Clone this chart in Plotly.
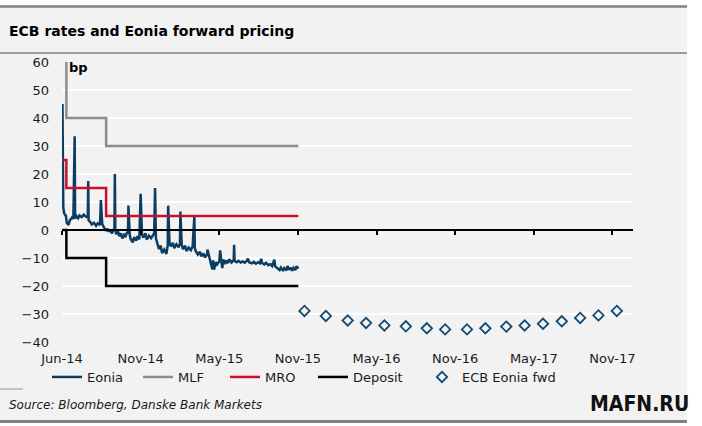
import plotly.graph_objects as go

W, H = 702, 426
ML, MR, MT, MB = 62, 69, 62, 84
PW, PH = W - ML - MR, H - MT - MB

def px(x):
    return (x - ML) / PW

def py(y):
    return (H - MB - y) / PH

# ---------------- data ----------------
tick_dates = ["2014-06-01", "2014-11-28", "2015-05-27", "2015-11-23",
              "2016-05-21", "2016-11-17", "2017-05-16", "2017-11-12"]
tick_labels = ["Jun-14", "Nov-14", "May-15", "Nov-15",
               "May-16", "Nov-16", "May-17", "Nov-17"]

eonia_dates = [
    "2014-06-02", "2014-06-03", "2014-06-04", "2014-06-06", "2014-06-10", "2014-06-12",
    "2014-06-16", "2014-06-19", "2014-06-24", "2014-06-27", "2014-06-30", "2014-07-01",
    "2014-07-04", "2014-07-08", "2014-07-11", "2014-07-16", "2014-07-21", "2014-07-25",
    "2014-07-30", "2014-07-31", "2014-08-01", "2014-08-05", "2014-08-08", "2014-08-13",
    "2014-08-18", "2014-08-22", "2014-08-27", "2014-08-29", "2014-09-01", "2014-09-04",
    "2014-09-10", "2014-09-12", "2014-09-16", "2014-09-19", "2014-09-23", "2014-09-26",
    "2014-09-29", "2014-09-30", "2014-10-01", "2014-10-03", "2014-10-07", "2014-10-10",
    "2014-10-14", "2014-10-17", "2014-10-21", "2014-10-24", "2014-10-28", "2014-10-30",
    "2014-10-31", "2014-11-03", "2014-11-05", "2014-11-10", "2014-11-13", "2014-11-18",
    "2014-11-21", "2014-11-25", "2014-11-28", "2014-12-01", "2014-12-04", "2014-12-09",
    "2014-12-12", "2014-12-17", "2014-12-22", "2014-12-29", "2014-12-31", "2015-01-02",
    "2015-01-06", "2015-01-09", "2015-01-13", "2015-01-16", "2015-01-21", "2015-01-26",
    "2015-01-29", "2015-01-30", "2015-02-02", "2015-02-05", "2015-02-10", "2015-02-13",
    "2015-02-18", "2015-02-23", "2015-02-26", "2015-02-27", "2015-03-02", "2015-03-05",
    "2015-03-10", "2015-03-13", "2015-03-18", "2015-03-23", "2015-03-27", "2015-03-31",
    "2015-04-01", "2015-04-03", "2015-04-08", "2015-04-13", "2015-04-16", "2015-04-21",
    "2015-04-24", "2015-04-29", "2015-04-30", "2015-05-04", "2015-05-07", "2015-05-11",
    "2015-05-13", "2015-05-15", "2015-05-19", "2015-05-22", "2015-05-27", "2015-05-29",
    "2015-06-01", "2015-06-03", "2015-06-05", "2015-06-09", "2015-06-12", "2015-06-16",
    "2015-06-19", "2015-06-24", "2015-06-29", "2015-06-30", "2015-07-01", "2015-07-06",
    "2015-07-10", "2015-07-15", "2015-07-20", "2015-07-24", "2015-07-29", "2015-07-31",
    "2015-08-04", "2015-08-10", "2015-08-14", "2015-08-19", "2015-08-24", "2015-08-28",
    "2015-08-31", "2015-09-02", "2015-09-07", "2015-09-11", "2015-09-16", "2015-09-21",
    "2015-09-25", "2015-09-30", "2015-10-02", "2015-10-07", "2015-10-12", "2015-10-15",
    "2015-10-20", "2015-10-23", "2015-10-28", "2015-10-30", "2015-11-03", "2015-11-06",
    "2015-11-10", "2015-11-13", "2015-11-17", "2015-11-20", "2015-11-24",
]
eonia_values = [
    45, 18, 8, 6, 5, 2.5,
    1.8, 3.5, 4.5, 4, 33.5, 4,
    5, 4.2, 5.2, 4.6, 5.5, 4.8,
    4.5, 17.5, 3.5, 2.8, 2, 2.6,
    1.5, 2.4, 1.8, 10.7, 2.2, 1.2,
    -0.3, 0.5, -0.6, 0.2, -1.2, -0.2,
    0.6, 20, 0.4, -1.5, -0.4, -2.2,
    -1.2, -3, -1.8, -2.5, -0.8, -1.3,
    8.7, -1.6, -3.2, -4.4, -2.6, -3.8,
    -2.2, -3.4, 12.9, -1.5, -2.7, -1.2,
    -3.4, -2, -2.9, -1.2, 15, -3,
    -5.2, -6.8, -5.6, -8.2, -7, -8.5,
    -5.5, 8.7, -4.5, -5.8, -4.6, -6.5,
    -5.1, -6.2, -5, 6.6, -5.2, -6.8,
    -5.6, -7.5, -6.3, -7.2, -5.8, 5,
    -6.5, -7.5, -8.8, -7.8, -9.4, -8.4,
    -9.8, -8.8, -7, -9.5, -10.5, -14,
    -10.8, -14.2, -11.5, -12.3, -11.2, -7.3,
    -11.5, -13.6, -10.5, -12.2, -10.9, -11.8,
    -10.4, -11.6, -10.8, -5.3, -11, -11.5,
    -11, -11.6, -11.2, -11.7, -11.1, -10.2,
    -11.6, -11.9, -11.4, -12, -11.5, -11.9,
    -10.3, -11.8, -12.3, -11.7, -12.6, -12.2,
    -12.9, -10.6, -13, -13.6, -14.3, -13.4,
    -14.6, -13.6, -14.4, -12.9, -14.2, -13.4,
    -14.5, -13.5, -14.3, -12.9, -13.8,
]

policy_dates = ["2014-06-02", "2014-06-11", "2014-09-10", "2015-11-24"]
mlf_values = [75, 40, 30, 30]
mro_values = [25, 15, 5, 5]
deposit_values = [0, -10, -20, -20]

fwd_dates = ["2015-12-08", "2016-01-26", "2016-03-16", "2016-04-27", "2016-06-08",
             "2016-07-27", "2016-09-13", "2016-10-25", "2016-12-14", "2017-01-25",
             "2017-03-14", "2017-04-25", "2017-06-06", "2017-07-19", "2017-08-30",
             "2017-10-11", "2017-11-22"]
fwd_values = [-28.9, -30.7, -32.3, -33.2, -34.1, -34.4, -35.1, -35.5, -35.5,
              -35.1, -34.5, -34.1, -33.5, -32.6, -31.4, -30.5, -28.9]

x_range = ["2014-06-01", "2017-12-29"]
y_range = [-40, 60]
y_ticks = [-40, -30, -20, -10, 0, 10, 20, 30, 40, 50, 60]

# ---------------- figure ----------------
C_EONIA = "#0b3d63"
C_MLF = "#8c8c8c"
C_MRO = "#c8102e"
C_DEP = "#000000"
C_FWD = "#134a74"
FONT = "DejaVu Sans, Verdana, sans-serif"

fig = go.Figure()
fig.add_trace(go.Scatter(x=eonia_dates, y=eonia_values, name="Eonia", mode="lines",
                         legend="legend",
                         line=dict(color=C_EONIA, width=2.5)))
fig.add_trace(go.Scatter(x=policy_dates, y=mlf_values, name="MLF", mode="lines",
                         legend="legend2",
                         line=dict(color=C_MLF, width=2.5, shape="hv")))
fig.add_trace(go.Scatter(x=policy_dates, y=mro_values, name="MRO", mode="lines",
                         legend="legend3",
                         line=dict(color=C_MRO, width=2.5, shape="hv")))
fig.add_trace(go.Scatter(x=policy_dates, y=deposit_values, name="Deposit", mode="lines",
                         legend="legend4",
                         line=dict(color=C_DEP, width=2.5, shape="hv")))
fig.add_trace(go.Scatter(x=fwd_dates, y=fwd_values, name="ECB Eonia fwd", mode="markers",
                         xaxis="x2", legend="legend5",
                         marker=dict(symbol="diamond-open", size=8, color=C_FWD,
                                     line=dict(color=C_FWD, width=1.8))))

axis_font = dict(family=FONT, size=13, color="#1a1a1a")
leg_font = dict(family=FONT, size=13, color="#1a1a1a")

def leg(xpix):
    return dict(orientation="h", x=px(xpix), xanchor="left", y=py(377), yanchor="middle",
                bgcolor="rgba(0,0,0,0)", font=leg_font, borderwidth=0)

fig.update_layout(
    width=W, height=H,
    margin=dict(l=ML, r=MR, t=MT, b=MB, pad=0),
    paper_bgcolor="#ffffff",
    plot_bgcolor="#f2f2f2",
    font=dict(family=FONT, size=13, color="#1a1a1a"),
    showlegend=True,
    legend=leg(47), legend2=leg(138), legend3=leg(225), legend4=leg(313), legend5=leg(422),
    xaxis=dict(type="date", range=x_range, tickvals=tick_dates, ticktext=tick_labels,
               showgrid=False, zeroline=False, showline=False, ticks="",
               tickfont=axis_font, ticklabelstandoff=7, fixedrange=True),
    xaxis2=dict(type="date", range=x_range, overlaying="x", anchor="free",
                position=(0 - y_range[0]) / (y_range[1] - y_range[0]),
                side="bottom", tickvals=tick_dates, showticklabels=False,
                showline=True, linecolor="#000000", linewidth=2,
                ticks="outside", ticklen=4, tickwidth=1.5, tickcolor="#000000",
                showgrid=False, zeroline=False),
    yaxis=dict(range=y_range, tickvals=y_ticks, showgrid=True, gridcolor="#ffffff",
               gridwidth=2, zeroline=False, showline=False, ticks="",
               tickfont=axis_font, ticklabelstandoff=12, fixedrange=True),
)

shapes = [
    dict(type="rect", xref="paper", yref="paper", x0=px(0), x1=px(687), y0=py(5), y1=py(423),
         fillcolor="#f2f2f2", line=dict(width=0), layer="below"),
    dict(type="line", xref="paper", yref="paper", x0=px(0), x1=px(687), y0=py(6.5), y1=py(6.5),
         line=dict(color="#808080", width=2.5)),
    dict(type="line", xref="paper", yref="paper", x0=px(0), x1=px(687), y0=py(53), y1=py(53),
         line=dict(color="#808080", width=1.5)),
    dict(type="line", xref="paper", yref="paper", x0=px(0), x1=px(23), y0=py(389), y1=py(389),
         line=dict(color="#909090", width=1)),
    dict(type="line", xref="paper", yref="paper", x0=px(0), x1=px(687), y0=py(421.5), y1=py(421.5),
         line=dict(color="#808080", width=3)),
]
fig.update_layout(shapes=shapes)

annotations = [
    dict(text="<b>ECB rates and Eonia forward pricing</b>", xref="paper", yref="paper",
         x=px(7), y=py(31), xanchor="left", yanchor="middle", showarrow=False,
         font=dict(family=FONT, size=14, color="#000000")),
    dict(text="<b>bp</b>", xref="paper", yref="paper", x=px(67), y=py(67),
         xanchor="left", yanchor="middle", showarrow=False,
         font=dict(family=FONT, size=13, color="#000000")),
    dict(text="<i>Source: Bloomberg, Danske Bank Markets</i>", xref="paper", yref="paper",
         x=px(7), y=py(405), xanchor="left", yanchor="middle", showarrow=False,
         font=dict(family=FONT, size=12, color="#1a1a1a")),
    dict(text="<b>MAFN.RU</b>", xref="paper", yref="paper", x=px(639), y=py(404),
         xanchor="center", yanchor="middle", showarrow=False,
         font=dict(family="DejaVu Sans Condensed, DejaVu Sans, sans-serif",
                   size=21, color="#111111")),
]
fig.update_layout(annotations=annotations)

fig.write_html("out.html")
